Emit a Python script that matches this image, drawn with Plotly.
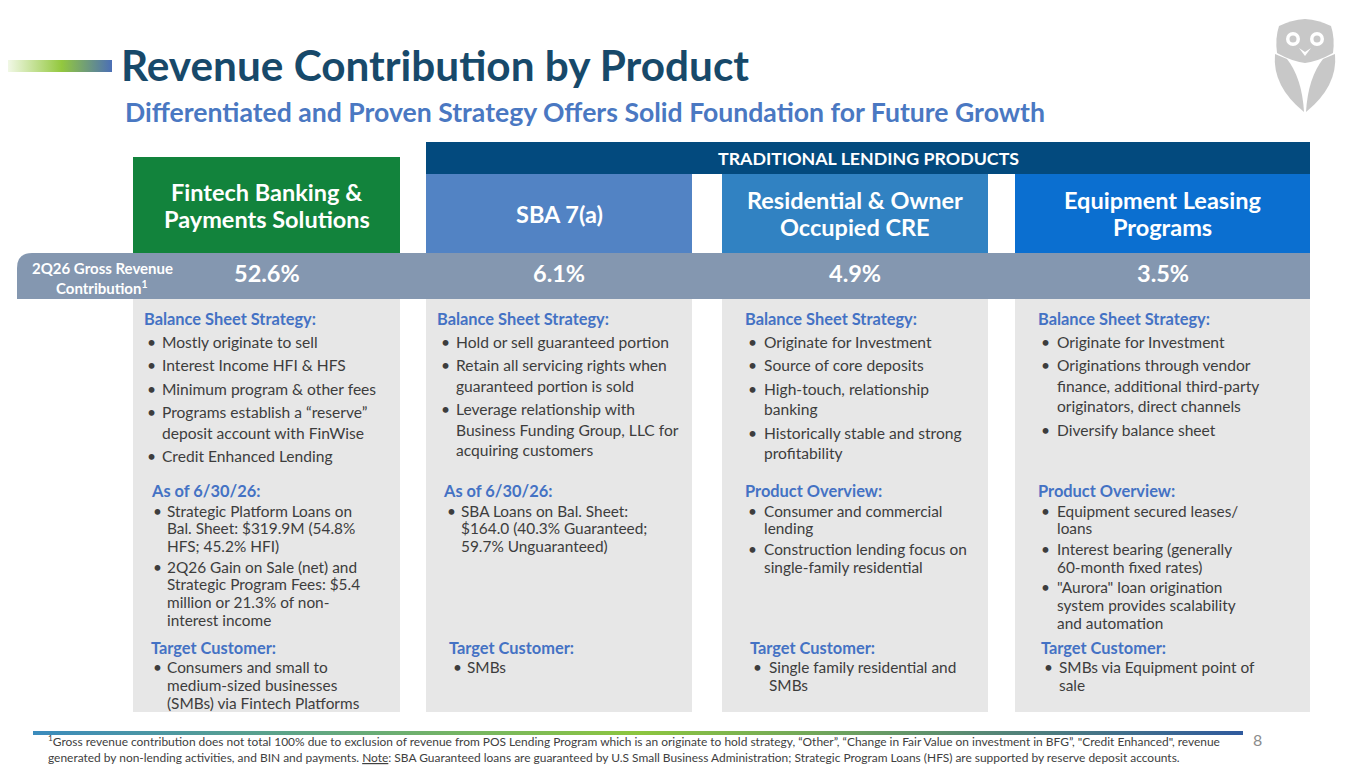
import plotly.graph_objects as go

# ---- data ----
products = ["Fintech Banking &<br>Payments Solutions", "SBA 7(a)",
            "Residential & Owner<br>Occupied CRE", "Equipment Leasing<br>Programs"]
contribution = [52.6, 6.1, 4.9, 3.5]

fintech = [
    ("Balance Sheet Strategy:", [["Mostly originate to sell"],
                                 ["Interest Income HFI & HFS"],
                                 ["Minimum program & other fees"],
                                 ["Programs establish a \u201creserve\u201d", "deposit account with FinWise"],
                                 ["Credit Enhanced Lending"]]),
    ("As of 6/30/26:", [["Strategic Platform Loans on", "Bal. Sheet: $319.9M (54.8%", "HFS; 45.2% HFI)"],
                        ["2Q26 Gain on Sale (net) and", "Strategic Program Fees: $5.4", "million or 21.3% of non-", "interest income"]]),
    ("Target Customer:", [["Consumers and small to", "medium-sized businesses", "(SMBs) via Fintech Platforms"]]),
]
sba = [
    ("Balance Sheet Strategy:", [["Hold or sell guaranteed portion"],
                                 ["Retain all servicing rights when", "guaranteed portion is sold"],
                                 ["Leverage relationship with", "Business Funding Group, LLC for", "acquiring customers"]]),
    ("As of 6/30/26:", [["SBA Loans on Bal. Sheet:", "$164.0 (40.3% Guaranteed;", "59.7% Unguaranteed)"]]),
    ("Target Customer:", [["SMBs"]]),
]
residential = [
    ("Balance Sheet Strategy:", [["Originate for Investment"],
                                 ["Source of core deposits"],
                                 ["High-touch, relationship", "banking"],
                                 ["Historically stable and strong", "profitability"]]),
    ("Product Overview:", [["Consumer and commercial", "lending"],
                           ["Construction lending focus on", "single-family residential"]]),
    ("Target Customer:", [["Single family residential and", "SMBs"]]),
]
equipment = [
    ("Balance Sheet Strategy:", [["Originate for Investment"],
                                 ["Originations through vendor", "finance, additional third-party", "originators, direct channels"],
                                 ["Diversify balance sheet"]]),
    ("Product Overview:", [["Equipment secured leases/", "loans"],
                           ["Interest bearing (generally", "60-month fixed rates)"],
                           ["\"Aurora\" loan origination", "system provides scalability", "and automation"]]),
    ("Target Customer:", [["SMBs via Equipment point of", "sale"]]),
]
columns = [fintech, sba, residential, equipment]

title = "Revenue Contribution by Product"
subtitle = "Differentiated and Proven Strategy Offers Solid Foundation for Future Growth"
group_label = "TRADITIONAL LENDING PRODUCTS"
band_label = ["2Q26 Gross Revenue", "Contribution<sup>1</sup>"]
footnote = [
    "<sup>1</sup>Gross revenue contribution does not total 100% due to exclusion of revenue from POS Lending Program which is an originate to hold strategy, \u201cOther\u201d, \u201cChange in Fair Value on investment in BFG\u201d, \"Credit Enhanced\", revenue",
    "generated by non-lending activities, and BIN and payments. <u>Note</u>: SBA Guaranteed loans are guaranteed by U.S Small Business Administration; Strategic Program Loans (HFS) are supported by reserve deposit accounts.",
]
page_no = "8"

# ---- style / layout ----
FONT = "Lato"
PAGE_OFF = 8  # browser body margin
head_colors = ["#12833c", "#5283c4", "#3182c2", "#0b6fd0"]
col_x0 = [133, 426, 722, 1015]
col_x1 = [400, 692, 988, 1310]
sec_y = [318, 490, 647]
line_step = [20.5, 17.8, 18]
bullet_gap = [23.5, 20.5, 20]
body_size = [15.6, 15.4, 15.4]
# (header x offset, bullet x offset, text x offset) per column / section
indents = [
    [(10, 16, 28), (17, 22, 33), (17, 22, 33)],
    [(10, 17, 29), (16, 23, 34), (22, 29, 40)],
    [(22, 28, 41), (22, 28, 41), (27, 33, 46)],
    [(22, 28, 41), (22, 28, 41), (25, 31, 43)],
]
HDR_BLUE = "#4472c4"
BODY = "#3d3d3d"

fig = go.Figure()
shapes = []
ann = []


def rect(x0, y0, x1, y1, color):
    shapes.append(dict(type="rect", x0=x0, y0=y0, x1=x1, y1=y1, fillcolor=color,
                       line=dict(width=0), layer="below"))


def text(x, y, s, size, color, bold=False, xanchor="left", yanchor="middle", align="left"):
    if bold:
        s = "<b>" + s + "</b>"
    ann.append(dict(x=x, y=y, text=s, showarrow=False, xanchor=xanchor, yanchor=yanchor,
                    align=align, borderpad=0, font=dict(family=FONT, size=size, color=color)))


def gradient_bar(x0, y0, x1, y1, scale):
    fig.add_trace(go.Scatter(x=[x0, x1, x1, x0, x0], y=[y0, y0, y1, y1, y0], mode="lines",
                             fill="toself", line=dict(width=0),
                             fillgradient=dict(type="horizontal", colorscale=scale),
                             hoverinfo="skip", showlegend=False))


# top accent bar and title
gradient_bar(0, 60, 112, 72, [[0, "#ffffff"], [0.55, "#93c83e"], [1, "#4b6fb6"]])
text(120, 64, title, 42.3, "#17496a", bold=True)
text(124, 112, subtitle, 26.6, "#4a78c2", bold=True)

# owl logo
OWL = "#c8c8c8"
shapes.append(dict(type="path", layer="below", fillcolor=OWL, line=dict(width=0),
                   path="M 1279 26 Q 1291 20 1305 19 Q 1319 20 1331 26 Q 1335 38 1333 53 "
                        "Q 1319 61 1305 63 Q 1291 61 1277 53 Q 1275 38 1279 26 Z"))
for ex in (1293, 1317):
    shapes.append(dict(type="circle", layer="below", x0=ex - 7, x1=ex + 7, y0=32, y1=46,
                       fillcolor="white", line=dict(width=0)))
    shapes.append(dict(type="circle", layer="below", x0=ex - 3.5, x1=ex + 3.5, y0=35.5, y1=42.5,
                       fillcolor=OWL, line=dict(width=0)))
shapes.append(dict(type="path", layer="below", fillcolor="white", line=dict(width=0),
                   path="M 1299 48 L 1305 56 L 1311 48 L 1305 52 Z"))
shapes.append(dict(type="path", layer="below", fillcolor=OWL, line=dict(width=0),
                   path="M 1275 54 Q 1272 86 1304 112 Q 1302 78 1287 59 Z"))
shapes.append(dict(type="path", layer="below", fillcolor=OWL, line=dict(width=0),
                   path="M 1335 54 Q 1338 86 1306 112 Q 1308 78 1323 59 Z"))

# group bar
rect(426, 142, 1310, 174, "#034a7e")
text(868, 158, group_label, 17.8, "white", bold=True, xanchor="center")

# header boxes
for i, name in enumerate(products):
    top = 157 if i == 0 else 174
    rect(col_x0[i], top, col_x1[i], 253, head_colors[i])
    parts = name.split("<br>")
    cy = (top + 253) / 2
    for k, part in enumerate(parts):
        text((col_x0[i] + col_x1[i]) / 2, cy + (k - (len(parts) - 1) / 2) * 27, part, 23.5,
             "white", bold=True, xanchor="center")

# contribution band with rounded left end
shapes.append(dict(type="path", layer="below", fillcolor="#8497b0", line=dict(width=0),
                   path="M 17 299 L 17 268 Q 17 253 32 253 L 1310 253 L 1310 299 Z"))
for k, part in enumerate(band_label):
    text(102, 268 + k * 19, part, 15, "white", bold=True, xanchor="center")
for i, v in enumerate(contribution):
    text((col_x0[i] + col_x1[i]) / 2, 273, f"{v:.1f}%", 23.5, "white", bold=True, xanchor="center")

# body panels
for i, sections in enumerate(columns):
    rect(col_x0[i], 299, col_x1[i], 712, "#e7e7e7")
    for s, (hdr, bullets) in enumerate(sections):
        hx, bx, tx = indents[i][s]
        y = sec_y[s]
        text(col_x0[i] + hx, y, hdr, 16.4, HDR_BLUE, bold=True)
        y += bullet_gap[s]
        for lines in bullets:
            text(col_x0[i] + bx + 2, y, "\u2022", body_size[s], BODY, xanchor="center")
            for ln in lines:
                text(col_x0[i] + tx, y, ln, body_size[s], BODY)
                y += line_step[s]
            y += bullet_gap[s] - line_step[s]

# footer
gradient_bar(33, 731, 1243, 735, [[0, "#3b8bbd"], [0.5, "#8dc63f"], [1, "#2f5a9e"]])
text(47, 741, footnote[0], 11.95, "#404040")
text(47, 757, footnote[1], 11.95, "#404040")
text(1257, 739, page_no, 16, "#8c8c8c", xanchor="center")

fig.update_layout(
    width=1365, height=768, margin=dict(l=0, r=0, t=0, b=0),
    paper_bgcolor="white", plot_bgcolor="white",
    xaxis=dict(range=[PAGE_OFF, 1365 + PAGE_OFF], visible=False, fixedrange=True),
    yaxis=dict(range=[768 + PAGE_OFF, PAGE_OFF], visible=False, fixedrange=True),
    shapes=shapes, annotations=ann, showlegend=False,
)
fig.write_html("out.html", config={"displayModeBar": False})
